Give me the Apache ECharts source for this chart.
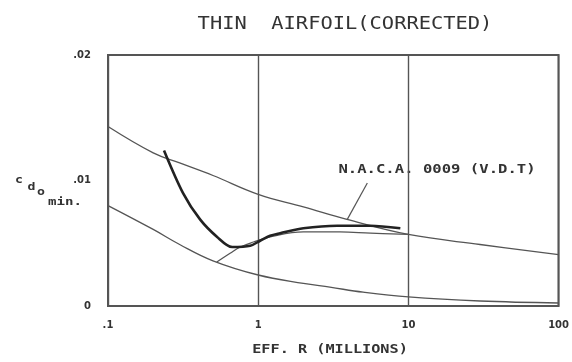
<!DOCTYPE html>
<html><head><meta charset="utf-8">
<script src="https://cdn.jsdelivr.net/npm/echarts@6/dist/echarts.min.js"></script>
<style>html,body{margin:0;padding:0;background:#fff}#c{width:572px;height:362px}</style>
</head><body><div id="c"></div>
<script>
// tick labels
const xTicks = [0.1, 1, 10, 100];
const xTickLabels = ['.1', '1', '10', '100'];
const yTicks = [0, 0.01, 0.02];
const yTickLabels = ['0', '.01', '.02'];

// upper thin curve
const upperR  = [0.1, 0.2, 0.3, 0.5, 1, 2, 3.9, 10, 30, 100];
const upperCd = [0.0143, 0.0122, 0.0114, 0.0104, 0.0089, 0.0079, 0.0069, 0.0057, 0.0049, 0.0041];

// lower thin curve
const lowerR  = [0.1, 0.2, 0.3, 0.5, 1, 2, 3, 5, 10, 30, 100];
const lowerCd = [0.0080, 0.0061, 0.0049, 0.0036, 0.00247, 0.0018, 0.0015, 0.0011, 0.00072, 0.0004, 0.00024];

// transition thin curve
const transR  = [0.53, 0.65, 0.76, 0.93, 1.2, 2, 3.5, 5.6, 10];
const transCd = [0.0035, 0.0042, 0.0047, 0.0051, 0.0055, 0.0059, 0.0059, 0.0058, 0.0057];

// N.A.C.A. 0009 (V.D.T.) thick curve
const nacaR  = [0.236, 0.316, 0.41, 0.533, 0.671, 0.885, 1.03, 1.2, 1.4, 2.0, 3.36, 5.58, 8.84];
const nacaCd = [0.0124, 0.0090, 0.0069, 0.0055, 0.0047, 0.0048, 0.0052, 0.0056, 0.0058, 0.0062, 0.0064, 0.0064, 0.0062];

// leader line from label to curve
const leaderR  = [5.33, 3.92];
const leaderCd = [0.0098, 0.0069];

const pairs = (xs, ys) => xs.map((x, i) => [x, ys[i]]);
const MONO = '"DejaVu Sans Mono", monospace';
const INK = '#333';

const chart = echarts.init(document.getElementById('c'), null, {renderer: 'canvas'});
const thin = {type: 'line', showSymbol: false, silent: true, lineStyle: {color: '#555', width: 1.3}, smooth: 0.4};

chart.setOption({
  animation: false,
  backgroundColor: '#fff',
  grid: {left: 108, right: 13, top: 55, bottom: 56, show: true, borderColor: '#555', borderWidth: 2, backgroundColor: 'transparent'},
  xAxis: {
    type: 'log', logBase: 10, min: 0.1, max: 100,
    axisLine: {show: false}, axisTick: {show: false},
    splitLine: {show: true, lineStyle: {color: '#555', width: 1.4}},
    axisLabel: {
      margin: 14, color: INK, fontFamily: '"DejaVu Sans"', fontWeight: 'bold', fontSize: 10,
      formatter: v => { const i = xTicks.findIndex(t => Math.abs(Math.log10(t) - Math.log10(v)) < 1e-6); return i >= 0 ? xTickLabels[i] : ''; }
    }
  },
  yAxis: {
    type: 'value', min: 0, max: 0.02, interval: 0.01,
    axisLine: {show: false}, axisTick: {show: false}, splitLine: {show: false},
    axisLabel: {
      margin: 17, color: INK, fontFamily: '"DejaVu Sans"', fontWeight: 'bold', fontSize: 10,
      formatter: v => { const i = yTicks.findIndex(t => Math.abs(t - v) < 1e-9); return i >= 0 ? yTickLabels[i] : ''; }
    }
  },
  series: [
    Object.assign({}, thin, {data: pairs(upperR, upperCd)}),
    Object.assign({}, thin, {data: pairs(lowerR, lowerCd)}),
    Object.assign({}, thin, {data: pairs(transR, transCd)}),
    {type: 'line', showSymbol: false, silent: true, data: pairs(leaderR, leaderCd), lineStyle: {color: '#555', width: 1.2}},
    {type: 'line', showSymbol: false, silent: true, smooth: 0.3, data: pairs(nacaR, nacaCd), lineStyle: {color: '#222', width: 2.6}}
  ],
  graphic: [
    {type: 'text', x: 345, y: 25, scaleX: 1.2, style: {text: 'THIN  AIRFOIL(CORRECTED)', font: '17px ' + MONO, fill: INK, align: 'center', verticalAlign: 'middle'}},
    {type: 'text', x: 330, y: 350, scaleX: 1.17, style: {text: 'EFF. R (MILLIONS)', font: 'bold 13px ' + MONO, fill: INK, align: 'center', verticalAlign: 'middle'}},
    {type: 'text', x: 437, y: 170, scaleX: 1.3, style: {text: 'N.A.C.A. 0009 (V.D.T)', font: 'bold 12px ' + MONO, fill: INK, align: 'center', verticalAlign: 'middle'}},
    {type: 'text', x: 19, y: 180, scaleX: 1.2, style: {text: 'c', font: 'bold 11px ' + MONO, fill: INK, align: 'center', verticalAlign: 'middle'}},
    {type: 'text', x: 31.5, y: 187, scaleX: 1.2, style: {text: 'd', font: 'bold 11px ' + MONO, fill: INK, align: 'center', verticalAlign: 'middle'}},
    {type: 'text', x: 41, y: 192, scaleX: 1.2, style: {text: 'o', font: 'bold 11px ' + MONO, fill: INK, align: 'center', verticalAlign: 'middle'}},
    {type: 'text', x: 65, y: 202, scaleX: 1.28, style: {text: 'min.', font: 'bold 11px ' + MONO, fill: INK, align: 'center', verticalAlign: 'middle'}}
  ]
});
</script>
</body></html>
